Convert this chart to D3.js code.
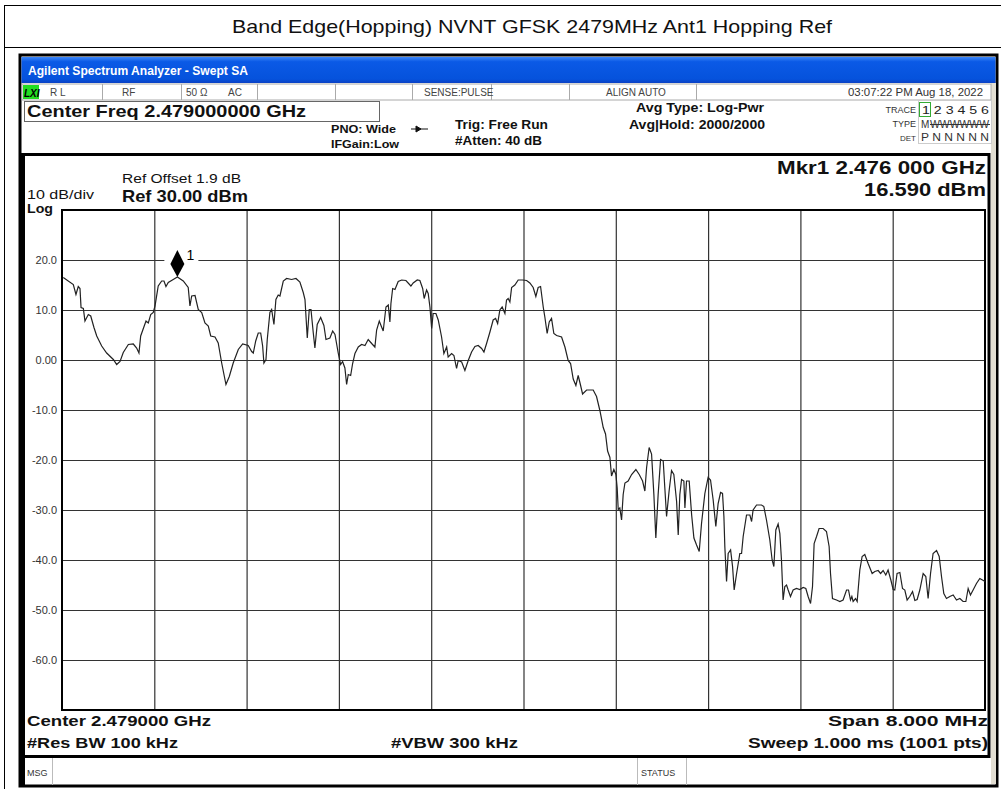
<!DOCTYPE html>
<html>
<head>
<meta charset="utf-8">
<script src="https://cdn.jsdelivr.net/npm/d3@7"></script>
<style>
  body { margin: 0; background: #fff; }
  svg { display: block; font-family: "Liberation Sans", Arial, sans-serif; }
</style>
</head>
<body>
<svg id="chart" width="1001" height="789"></svg>
<script>
// trace: offset from start freq (2.475 GHz), in MHz, and level in dBm
const freqOffsetMHz = [
  0.011, 0.098, 0.121, 0.141, 0.156, 0.165, 0.185, 0.199, 0.228, 0.249, 0.277, 0.301, 0.344, 0.387, 0.445,
  0.474, 0.503, 0.531, 0.575, 0.618, 0.647, 0.667, 0.682, 0.728, 0.748, 0.769, 0.791, 0.806, 0.834, 0.864,
  0.884, 0.901, 0.921, 0.964, 1.000, 1.051, 1.094, 1.109, 1.124, 1.153, 1.181, 1.211, 1.239, 1.268, 1.289,
  1.326, 1.354, 1.384, 1.421, 1.450, 1.484, 1.528, 1.566, 1.614, 1.644, 1.658, 1.679, 1.701, 1.722, 1.739,
  1.750, 1.768, 1.779, 1.802, 1.817, 1.837, 1.854, 1.874, 1.889, 1.918, 1.947, 1.990, 2.028, 2.062, 2.091,
  2.106, 2.126, 2.143, 2.158, 2.178, 2.192, 2.212, 2.242, 2.270, 2.288, 2.322, 2.346, 2.366, 2.394, 2.415,
  2.432, 2.452, 2.467, 2.481, 2.502, 2.519, 2.539, 2.568, 2.597, 2.626, 2.654, 2.684, 2.712, 2.727, 2.750,
  2.770, 2.784, 2.808, 2.828, 2.842, 2.851, 2.866, 2.886, 2.914, 2.944, 2.981, 3.024, 3.044, 3.079, 3.102,
  3.126, 3.139, 3.160, 3.174, 3.189, 3.204, 3.217, 3.241, 3.261, 3.290, 3.310, 3.334, 3.347, 3.377, 3.397,
  3.420, 3.434, 3.464, 3.492, 3.521, 3.550, 3.579, 3.607, 3.637, 3.657, 3.680, 3.709, 3.737, 3.758, 3.776,
  3.795, 3.815, 3.839, 3.853, 3.867, 3.882, 3.897, 3.925, 3.954, 3.992, 4.027, 4.055, 4.084, 4.107, 4.127,
  4.148, 4.171, 4.185, 4.205, 4.223, 4.243, 4.263, 4.287, 4.330, 4.359, 4.387, 4.408, 4.431, 4.454, 4.474,
  4.495, 4.512, 4.547, 4.604, 4.633, 4.662, 4.691, 4.711, 4.729, 4.749, 4.763, 4.783, 4.801, 4.812, 4.821,
  4.835, 4.850, 4.864, 4.879, 4.907, 4.937, 4.974, 5.003, 5.032, 5.052, 5.067, 5.089, 5.110, 5.130, 5.147,
  5.167, 5.188, 5.211, 5.225, 5.240, 5.262, 5.283, 5.303, 5.327, 5.341, 5.355, 5.370, 5.390, 5.399, 5.413,
  5.436, 5.457, 5.477, 5.500, 5.523, 5.543, 5.572, 5.600, 5.621, 5.644, 5.667, 5.687, 5.708, 5.725, 5.737,
  5.745, 5.760, 5.774, 5.795, 5.812, 5.826, 5.847, 5.875, 5.890, 5.904, 5.933, 5.962, 5.977, 5.990, 6.020,
  6.063, 6.083, 6.106, 6.135, 6.155, 6.170, 6.187, 6.207, 6.222, 6.236, 6.250, 6.265, 6.280, 6.294, 6.314,
  6.337, 6.366, 6.395, 6.424, 6.447, 6.467, 6.488, 6.505, 6.519, 6.540, 6.562, 6.597, 6.626, 6.649, 6.661,
  6.678, 6.713, 6.742, 6.770, 6.800, 6.817, 6.834, 6.846, 6.857, 6.878, 6.892, 6.915, 6.935, 6.958, 6.987,
  7.022, 7.045, 7.074, 7.095, 7.117, 7.140, 7.160, 7.184, 7.204, 7.218, 7.238, 7.262, 7.285, 7.305, 7.325,
  7.348, 7.372, 7.392, 7.412, 7.435, 7.464, 7.487, 7.507, 7.528, 7.550, 7.580, 7.603, 7.623, 7.643, 7.666,
  7.695, 7.724, 7.753, 7.782, 7.810, 7.834, 7.854, 7.874, 7.897, 7.926, 7.955, 7.978, 8.000
];
const levelDbm = [
  16.5, 15.1, 13.1, 14.7, 14.3, 10.5, 10.3, 7.8, 9.1, 8.8, 6.5, 4.8, 2.8, 1.4, 0.1,
  -0.9, -0.3, 1.5, 3.1, 3.2, 2.4, 1.4, 4.8, 7.8, 7.4, 9.1, 9.5, 10.8, 14.8, 15.8,
  15.8, 14.7, 15.5, 16.1, 16.59, 15.8, 14.5, 10.8, 12.8, 12.9, 10.1, 9.5, 7.4, 6.8, 4.8,
  4.6, 3.4, -0.6, -4.9, -3.3, -0.6, 2.1, 3.2, 2.9, 1.7, 1.4, 3.8, 5.4, 5.4, 2.8,
  -0.6, 0.1, 4.1, 9.5, 10.1, 7.1, 12.1, 13.0, 12.8, 15.8, 16.3, 16.1, 16.3, 15.6, 13.5,
  12.1, 4.4, 10.1, 10.1, 5.4, 2.4, 7.1, 8.5, 6.9, 4.1, 4.4, 5.8, 5.1, 1.4, -0.9,
  -0.3, -1.6, -4.9, -2.9, -3.1, -0.7, 1.3, 2.6, 3.1, 2.9, 4.1, 3.3, 2.6, 6.0, 7.8,
  6.6, 5.8, 10.6, 11.0, 7.6, 11.3, 14.3, 14.1, 15.7, 16.0, 15.9, 14.8, 15.4, 16.0, 15.9,
  14.3, 12.3, 14.0, 13.3, 10.6, 6.3, 9.3, 9.3, 8.0, 4.6, 1.3, 2.6, 0.6, 1.3, 0.9,
  -1.7, -0.1, -0.4, -2.1, -0.1, 1.6, 2.7, 2.9, 2.3, 1.6, 3.3, 5.6, 8.0, 8.3, 7.3,
  10.0, 10.6, 9.3, 12.0, 12.3, 11.6, 14.5, 15.0, 16.0, 16.0, 15.9, 15.4, 14.5, 12.7, 14.5,
  14.7, 10.6, 8.6, 5.3, 7.6, 8.3, 5.3, 4.9, 4.6, 2.6, -0.1, -0.7, -3.8, -5.1, -3.1,
  -5.1, -6.8, -6.0, -6.0, -7.3, -10.1, -13.5, -14.8, -18.2, -19.5, -23.2, -21.9, -22.9, -25.6, -29.9,
  -29.6, -32.0, -26.9, -24.6, -24.2, -22.9, -21.9, -22.9, -24.2, -26.2, -21.5, -17.5, -18.8, -26.9, -35.6,
  -26.9, -19.9, -20.2, -25.6, -31.3, -26.2, -22.1, -22.9, -28.3, -35.0, -26.9, -23.9, -24.2, -29.6, -24.2,
  -24.2, -30.9, -35.6, -37.0, -38.3, -32.7, -26.7, -23.5, -24.0, -28.0, -33.3, -28.7, -26.5, -26.7, -31.3,
  -37.3, -44.3, -38.7, -38.0, -41.3, -46.0, -42.7, -38.7, -38.7, -35.3, -31.0, -31.0, -32.3, -30.0, -29.0,
  -29.0, -29.3, -32.0, -36.0, -40.0, -41.3, -34.0, -32.8, -34.7, -40.0, -48.0, -45.3, -45.0, -46.0, -47.3,
  -46.0, -45.7, -45.9, -45.5, -45.7, -47.3, -48.7, -45.3, -36.7, -35.3, -33.7, -33.7, -34.3, -37.3, -42.7,
  -47.7, -48.0, -48.3, -48.0, -46.0, -46.0, -48.0, -47.3, -48.3, -47.7, -48.3, -42.0, -39.3, -38.9, -40.7,
  -42.7, -42.3, -42.1, -42.7, -42.1, -43.0, -42.0, -44.0, -45.9, -46.0, -42.7, -42.5, -45.7, -46.0, -48.0,
  -47.3, -46.3, -48.1, -47.9, -46.0, -42.7, -43.3, -47.7, -42.7, -38.7, -38.1, -39.3, -43.3, -46.7, -47.7,
  -47.3, -47.0, -48.0, -47.7, -48.3, -48.3, -45.7, -47.0, -46.0, -44.7, -43.7, -44.0, -44.3
];
const yTickValues = [20, 10, 0, -10, -20, -30, -40, -50, -60];
const yTickLabels = ["20.0", "10.0", "0.00", "-10.0", "-20.0", "-30.0", "-40.0", "-50.0", "-60.0"];
const markerFreqOffset = 1.0;   // 2.476 GHz
const markerLevel = 16.59;

const title = "Band Edge(Hopping) NVNT GFSK 2479MHz Ant1 Hopping Ref";

const svg = d3.select('#chart');
const plot = { left: 62, right: 985, top: 210, bottom: 710 };

const x = d3.scaleLinear().domain([0, 8]).range([plot.left, plot.right]);
const y = d3.scaleLinear().domain([-70, 30]).range([plot.bottom, plot.top]);

// text helper; the screen capture is a bit wider than Arial, so widths are pinned
function label(tx, ty, t, o = {}) {
  const el = svg.append('text').attr('x', tx).attr('y', ty)
    .attr('font-size', o.size || 12)
    .attr('font-weight', o.bold ? 'bold' : 'normal')
    .attr('text-anchor', o.anchor || 'start')
    .attr('fill', o.fill || '#111')
    .text(t);
  if (o.width) el.attr('textLength', o.width).attr('lengthAdjust', 'spacingAndGlyphs');
  if (o.italic) el.attr('font-style', 'italic');
  return el;
}

// page frame + title
svg.append('line').attr('x1', 4.5).attr('x2', 4.5).attr('y1', 5).attr('y2', 789).attr('stroke', '#000');
svg.append('line').attr('x1', 4).attr('x2', 1001).attr('y1', 5.5).attr('y2', 5.5).attr('stroke', '#000');
svg.append('line').attr('x1', 4).attr('x2', 1001).attr('y1', 47.5).attr('y2', 47.5).attr('stroke', '#000');
label(532, 33, title, { size: 18.5, anchor: 'middle', width: 600 });

// analyzer window
const defs = svg.append('defs');
const grad = defs.append('linearGradient').attr('id', 'bar').attr('x1', 0).attr('x2', 0).attr('y1', 0).attr('y2', 1);
grad.append('stop').attr('offset', '0%').attr('stop-color', '#3b86f7');
grad.append('stop').attr('offset', '18%').attr('stop-color', '#0b5ae6');
grad.append('stop').attr('offset', '85%').attr('stop-color', '#0552dc');
grad.append('stop').attr('offset', '100%').attr('stop-color', '#0a40c4');

svg.append('rect').attr('x', 20).attr('y', 55).attr('width', 977).attr('height', 731)
  .attr('fill', '#fff').attr('stroke', '#000').attr('stroke-width', 3);
svg.append('rect').attr('x', 21.5).attr('y', 57).attr('width', 974).attr('height', 26).attr('fill', 'url(#bar)');
label(28, 75, 'Agilent Spectrum Analyzer - Swept SA', { size: 12, bold: true, fill: '#fff', width: 220 });
svg.append('rect').attr('x', 991).attr('y', 83).attr('width', 5).attr('height', 701).attr('fill', '#e2ded2');

// status row
const statusY = 84, statusH = 16;
svg.append('rect').attr('x', 22).attr('y', statusY).attr('width', 969).attr('height', statusH)
  .attr('fill', '#fff').attr('stroke', '#aaa');
svg.append('rect').attr('x', 23).attr('y', statusY + 1).attr('width', 16).attr('height', 14).attr('fill', '#22dd22');
label(24, 97, 'LXI', { size: 10, bold: true, italic: true, fill: '#000' });
[102, 181, 257, 335, 412, 491, 569, 696].forEach(sx => {
  svg.append('line').attr('x1', sx + 0.5).attr('x2', sx + 0.5).attr('y1', statusY).attr('y2', statusY + statusH)
    .attr('stroke', '#aaa');
});
[[50, 'R L'], [122, 'RF'], [186, '50 Ω'], [228, 'AC'], [424, 'SENSE:PULSE'], [606, 'ALIGN AUTO']]
  .forEach(([sx, t]) => label(sx, 96, t, { size: 10, fill: '#444' }));
label(983, 96, '03:07:22 PM Aug 18, 2022', { size: 10.5, anchor: 'end', fill: '#333', width: 135 });

// header settings
svg.append('rect').attr('x', 24.5).attr('y', 101.5).attr('width', 355).attr('height', 20)
  .attr('fill', 'none').attr('stroke', '#666');
label(27, 117, 'Center Freq 2.479000000 GHz', { size: 17, bold: true, width: 279 });
label(331, 133, 'PNO: Wide', { size: 11, bold: true, width: 65 });
label(331, 148, 'IFGain:Low', { size: 11, bold: true, width: 68 });
label(455, 129, 'Trig: Free Run', { size: 12, bold: true, width: 93 });
label(455, 145, '#Atten: 40 dB', { size: 12, bold: true, width: 87 });
label(636, 112, 'Avg Type: Log-Pwr', { size: 12, bold: true, width: 128 });
label(629, 129, 'Avg|Hold: 2000/2000', { size: 12, bold: true, width: 136 });
svg.append('path').attr('d', 'M411 129 H428 M416 126 L421 129 L416 132 Z').attr('stroke', '#111').attr('fill', '#111');

// trace table
svg.append('rect').attr('x', 918.5).attr('y', 100.5).attr('width', 73).attr('height', 43)
  .attr('fill', 'none').attr('stroke', '#ccc');
label(916, 113, 'TRACE', { size: 9, anchor: 'end', fill: '#333' });
label(916, 127, 'TYPE', { size: 9, anchor: 'end', fill: '#333' });
label(916, 141, 'DET', { size: 8, anchor: 'end', fill: '#333' });
svg.append('rect').attr('x', 919.5).attr('y', 102.5).attr('width', 11).attr('height', 14)
  .attr('fill', 'none').attr('stroke', '#3a3');
label(922, 114, '1 2 3 4 5 6', { size: 11, fill: '#222', width: 67 });
label(921, 128, 'M', { size: 10, fill: '#333' });
label(930, 128, 'WWWWWW', { size: 10, fill: '#333', width: 59 });
svg.append('line').attr('x1', 930).attr('x2', 990).attr('y1', 124.5).attr('y2', 124.5).attr('stroke', '#333');
label(921, 141, 'P N N N N N', { size: 10, fill: '#333', width: 68 });

// graph pane
svg.append('rect').attr('x', 22).attr('y', 154.5).attr('width', 967).attr('height', 602)
  .attr('fill', '#fff').attr('stroke', '#000').attr('stroke-width', 3);
svg.append('rect').attr('x', 19).attr('y', 154).attr('width', 6).attr('height', 632).attr('fill', '#000');

label(122, 183, 'Ref Offset 1.9 dB', { size: 12.5, width: 119 });
label(122, 202, 'Ref 30.00 dBm', { size: 16.5, bold: true, width: 126 });
label(27, 199, '10 dB/div', { size: 12.5, width: 67 });
label(27, 213, 'Log', { size: 12.5, bold: true, width: 26 });
label(986, 174, 'Mkr1 2.476 000 GHz', { size: 19, bold: true, anchor: 'end', width: 209 });
label(986, 196, '16.590 dBm', { size: 19, bold: true, anchor: 'end', width: 122 });

// grid
const gridX = d3.axisBottom(x).tickValues(d3.range(0.8, 7.9, 0.8)).tickSize(-(plot.bottom - plot.top)).tickFormat('');
svg.append('g').attr('transform', `translate(0,${plot.bottom})`).call(gridX)
  .call(g => g.select('.domain').remove())
  .call(g => g.selectAll('line').attr('stroke', '#333').attr('stroke-width', 1.2));

const gridY = d3.axisLeft(y).tickValues(yTickValues).tickSize(-(plot.right - plot.left))
  .tickFormat((d, i) => yTickLabels[i]);
svg.append('g').attr('transform', `translate(${plot.left},0)`).call(gridY)
  .call(g => g.select('.domain').remove())
  .call(g => g.selectAll('line').attr('stroke', '#333').attr('stroke-width', 1.2))
  .call(g => g.selectAll('text').attr('x', -5).attr('font-size', 11).attr('fill', '#333')
    .attr('font-family', '"Liberation Sans", Arial, sans-serif'));

svg.append('rect').attr('x', plot.left).attr('y', plot.top).attr('width', plot.right - plot.left)
  .attr('height', plot.bottom - plot.top).attr('fill', 'none').attr('stroke', '#000').attr('stroke-width', 2);

// trace
const pts = freqOffsetMHz.map((f, i) => [f, levelDbm[i]]);
svg.append('path').datum(pts)
  .attr('d', d3.line().x(d => x(d[0])).y(d => y(d[1])))
  .attr('fill', 'none').attr('stroke', '#222').attr('stroke-width', 1.2);

// marker 1
const mx = x(markerFreqOffset), my = y(markerLevel);
svg.append('rect').attr('x', mx - 13).attr('y', my - 30).attr('width', 34).attr('height', 26).attr('fill', '#fff');
svg.append('path').attr('d', `M${mx},${my} L${mx - 7},${my - 13} L${mx},${my - 27} L${mx + 7},${my - 13} Z`)
  .attr('fill', '#000');
label(mx + 9, my - 17, '1', { size: 14, fill: '#000' });

// footer
label(27, 726, 'Center 2.479000 GHz', { size: 15.5, bold: true, width: 184 });
label(27, 748, '#Res BW 100 kHz', { size: 15.5, bold: true, width: 151 });
label(391, 748, '#VBW 300 kHz', { size: 15.5, bold: true, width: 127 });
label(988, 726, 'Span 8.000 MHz', { size: 15.5, bold: true, anchor: 'end', width: 160 });
label(988, 748, 'Sweep  1.000 ms (1001 pts)', { size: 15.5, bold: true, anchor: 'end', width: 240 });

// message row
[52.5, 637.5, 686.5].forEach(lx => {
  svg.append('line').attr('x1', lx).attr('x2', lx).attr('y1', 758).attr('y2', 785).attr('stroke', '#bbb');
});
label(27, 776, 'MSG', { size: 9, fill: '#333' });
label(641, 776, 'STATUS', { size: 9, fill: '#333' });
</script>
</body>
</html>
